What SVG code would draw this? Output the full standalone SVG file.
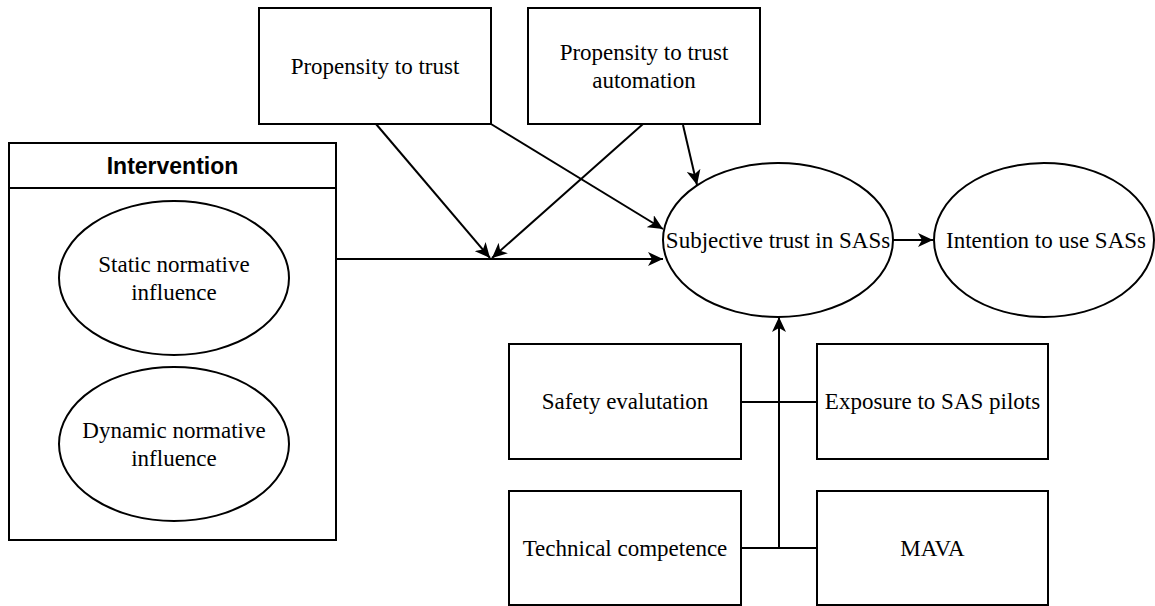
<svg xmlns="http://www.w3.org/2000/svg" width="1155" height="606" viewBox="0 0 1155 606">
<style>
.box{fill:#fff;stroke:#000;stroke-width:2}
.t{font-family:"Liberation Serif","Times New Roman",serif;font-size:23px;fill:#000;text-anchor:middle}
.h{font-family:"Liberation Sans",Arial,sans-serif;font-size:23px;font-weight:bold;fill:#000;text-anchor:middle}
.c{fill:none;stroke:#000;stroke-width:2}
</style>
<defs>
<marker id="arr" markerUnits="userSpaceOnUse" markerWidth="16" markerHeight="14" refX="15" refY="7" orient="auto">
<path d="M0,0 L15,7 L0,14 L4,7 Z" fill="#000"/>
</marker>
</defs>
<rect width="1155" height="606" fill="#fff"/>
<g id="intervention">
<rect class="box" x="9" y="143" width="327" height="397"/>
<line class="c" x1="9" y1="188" x2="336" y2="188"/>
<text class="h" x="172.5" y="174">Intervention</text>
</g>
<g id="static">
<ellipse class="box" cx="174" cy="278" rx="115" ry="77"/>
<text class="t" x="174" y="272">Static normative</text>
<text class="t" x="174" y="300">influence</text>
</g>
<g id="dynamic">
<ellipse class="box" cx="174" cy="444" rx="115" ry="77"/>
<text class="t" x="174" y="438">Dynamic normative</text>
<text class="t" x="174" y="466">influence</text>
</g>
<g id="propensity">
<rect class="box" x="259" y="8" width="232" height="116"/>
<text class="t" x="375" y="74">Propensity to trust</text>
</g>
<g id="propensity-auto">
<rect class="box" x="528" y="8" width="232" height="116"/>
<text class="t" x="644" y="60">Propensity to trust</text>
<text class="t" x="644" y="88">automation</text>
</g>
<g id="subjective">
<ellipse class="box" cx="778" cy="240" rx="115" ry="77"/>
<text class="t" x="778" y="248">Subjective trust in SASs</text>
</g>
<g id="intention">
<ellipse class="box" cx="1044" cy="240" rx="110" ry="77"/>
<text class="t" x="1046" y="248">Intention to use SASs</text>
</g>
<g id="safety">
<rect class="box" x="509" y="344" width="232" height="115"/>
<text class="t" x="625" y="409">Safety evalutation</text>
</g>
<g id="technical">
<rect class="box" x="509" y="491" width="232" height="114"/>
<text class="t" x="625" y="556">Technical competence</text>
</g>
<g id="exposure">
<rect class="box" x="817" y="344" width="231" height="115"/>
<text class="t" x="932.5" y="409">Exposure to SAS pilots</text>
</g>
<g id="mava">
<rect class="box" x="817" y="491" width="231" height="114"/>
<text class="t" x="932.5" y="556">MAVA</text>
</g>
<g id="connectors">
<line class="c" x1="337" y1="259" x2="663" y2="259" marker-end="url(#arr)"/>
<line class="c" x1="376" y1="124" x2="490" y2="258" marker-end="url(#arr)"/>
<line class="c" x1="491" y1="124" x2="663" y2="229" marker-end="url(#arr)"/>
<line class="c" x1="643" y1="124" x2="492" y2="258" marker-end="url(#arr)"/>
<line class="c" x1="683" y1="125" x2="697" y2="185" marker-end="url(#arr)"/>
<line class="c" x1="893" y1="240" x2="933" y2="240" marker-end="url(#arr)"/>
<line class="c" x1="779" y1="548" x2="779" y2="317" marker-end="url(#arr)"/>
<line class="c" x1="741" y1="402" x2="817" y2="402"/>
<line class="c" x1="741" y1="548" x2="817" y2="548"/>
</g>
</svg>
